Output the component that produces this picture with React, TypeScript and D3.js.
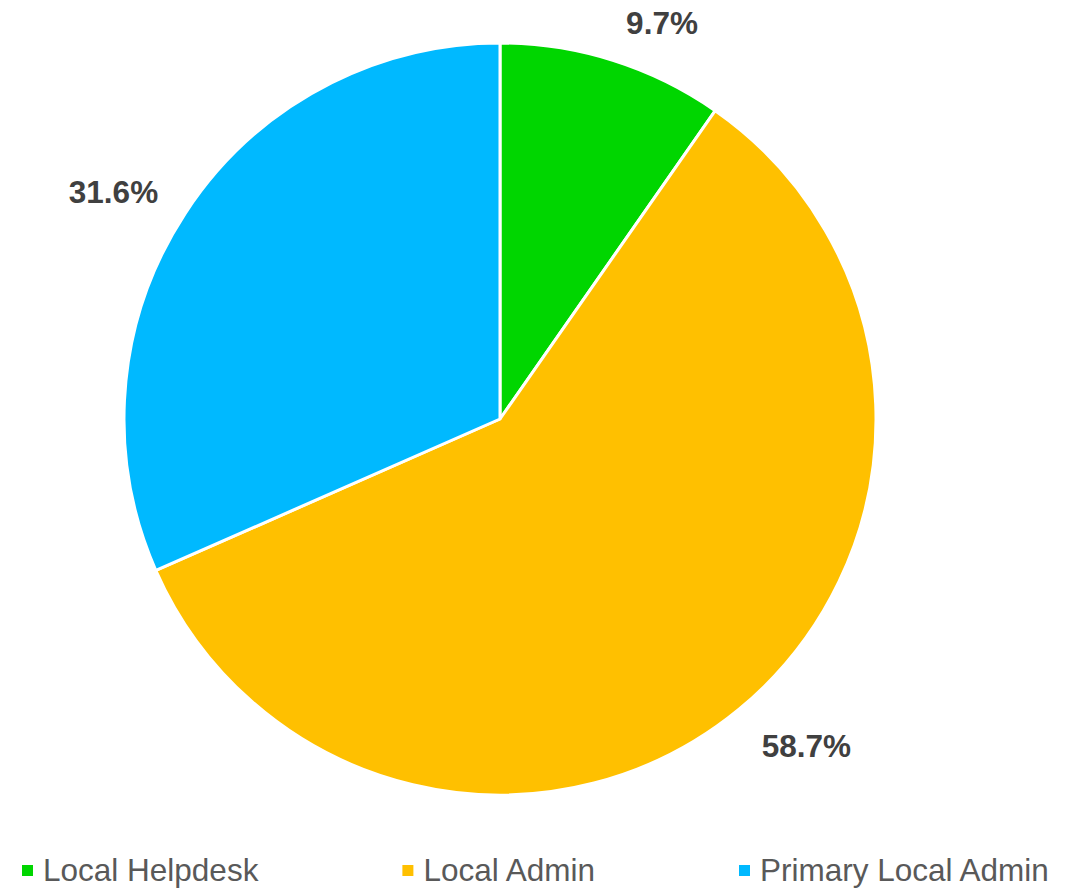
import React, { useEffect, useRef } from 'react';
import * as d3 from 'd3';

// Pie data (share of users by role)
const categories = ['Local Helpdesk', 'Local Admin', 'Primary Local Admin'];
const shares = [9.7, 58.7, 31.6];
const colors = ['#00D600', '#FFC000', '#00B9FF'];

const WIDTH = 1078;
const HEIGHT = 888;

const App = () => {
  const svgRef = useRef<SVGSVGElement>(null);

  useEffect(() => {
    const svg = d3.select(svgRef.current);
    svg.selectAll('*').remove();

    const cx = 500;
    const cy = 419;
    const radius = 376;

    const data = categories.map((name, i) => ({ name, value: shares[i], color: colors[i] }));

    const pie = d3.pie<any>().value(d => d.value).sort(null);
    const arcs = pie(data);

    const arc = d3.arc<any>().innerRadius(0).outerRadius(radius);

    const g = svg.append('g').attr('transform', `translate(${cx},${cy})`);

    g.selectAll('path.slice')
      .data(arcs)
      .enter().append('path')
      .attr('class', 'slice')
      .attr('d', arc)
      .attr('fill', d => d.data.color)
      .attr('stroke', '#ffffff')
      .attr('stroke-width', 3)
      .attr('stroke-linejoin', 'round');

    // Data labels: placed outside the pie, then nudged like Excel's best fit
    const labelArc = d3.arc<any>().innerRadius(440).outerRadius(440);
    const nudges = [[30, 23], [27, -13], [-18, 13]];

    g.selectAll('text.label')
      .data(arcs)
      .enter().append('text')
      .attr('class', 'label')
      .attr('x', (d, i) => labelArc.centroid(d)[0] + nudges[i][0])
      .attr('y', (d, i) => labelArc.centroid(d)[1] + nudges[i][1] + 11.5)
      .attr('text-anchor', 'middle')
      .style('font-family', '"Liberation Sans", Arial, sans-serif')
      .style('font-size', '31.5px')
      .style('font-weight', 'bold')
      .style('fill', '#404040')
      .text(d => `${d.data.value.toFixed(1)}%`);

    // Legend (equal gaps between items)
    const legend = svg.append('g').attr('transform', 'translate(0,881)');
    const items = legend.selectAll('g.item')
      .data(data)
      .enter().append('g')
      .attr('class', 'item');

    items.append('rect')
      .attr('x', 0)
      .attr('y', -16)
      .attr('width', 11)
      .attr('height', 11)
      .attr('fill', d => d.color);

    items.append('text')
      .attr('x', 21)
      .attr('y', 0)
      .style('font-family', '"Liberation Sans", Arial, sans-serif')
      .style('font-size', '31.5px')
      .style('fill', '#595959')
      .text(d => d.name);

    const widths: number[] = [];
    items.each(function () {
      const t = d3.select(this).select('text').node() as SVGTextElement;
      widths.push(21 + t.getComputedTextLength());
    });
    const gap = 144;
    let x = 22;
    items.attr('transform', (d, i) => {
      const tx = x;
      x += widths[i] + gap;
      return `translate(${tx},0)`;
    });
  }, []);

  return (
    <div style={{ position: 'absolute', left: 0, top: 0 }}>
      <svg ref={svgRef} width={WIDTH} height={HEIGHT} style={{ display: 'block', background: '#ffffff' }} />
    </div>
  );
};

export default App;
